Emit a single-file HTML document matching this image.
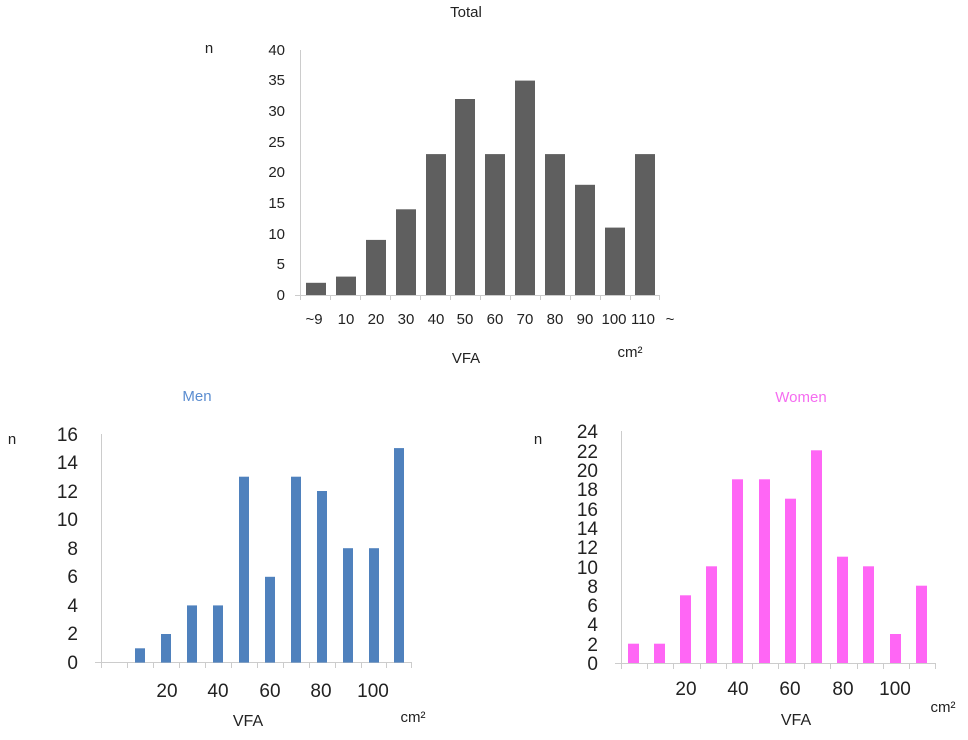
<!DOCTYPE html>
<html><head><meta charset="utf-8"><style>
html,body{margin:0;padding:0;background:#fff}
text{font-family:"Liberation Sans","DejaVu Sans",sans-serif;fill:#222}
</style></head><body>
<svg width="968" height="735" xmlns="http://www.w3.org/2000/svg">
<!-- Total -->
<text x="466" y="17" font-size="15" text-anchor="middle">Total</text>
<text x="209" y="53" font-size="15" text-anchor="middle">n</text>
<g font-size="15" text-anchor="end">
<text x="285" y="300">0</text><text x="285" y="269">5</text><text x="285" y="239">10</text><text x="285" y="208">15</text><text x="285" y="177">20</text><text x="285" y="147">25</text><text x="285" y="116">30</text><text x="285" y="85">35</text><text x="285" y="55">40</text>
</g>
<line x1="300.5" y1="50" x2="300.5" y2="300" stroke="#ccc"/>
<line x1="295" y1="295.5" x2="660" y2="295.5" stroke="#ccc"/>
<g stroke="#ccc"><line x1="330.5" y1="295" x2="330.5" y2="300"/><line x1="360.5" y1="295" x2="360.5" y2="300"/><line x1="390.5" y1="295" x2="390.5" y2="300"/><line x1="420.5" y1="295" x2="420.5" y2="300"/><line x1="450.5" y1="295" x2="450.5" y2="300"/><line x1="480.5" y1="295" x2="480.5" y2="300"/><line x1="510.5" y1="295" x2="510.5" y2="300"/><line x1="540.5" y1="295" x2="540.5" y2="300"/><line x1="570.5" y1="295" x2="570.5" y2="300"/><line x1="600.5" y1="295" x2="600.5" y2="300"/><line x1="630.5" y1="295" x2="630.5" y2="300"/><line x1="659.5" y1="295" x2="659.5" y2="300"/></g>
<g fill="#5f5f5f">
<rect x="306" y="282.8" width="20" height="12.2"/>
<rect x="336" y="276.6" width="20" height="18.4"/>
<rect x="366" y="239.9" width="20" height="55.1"/>
<rect x="396" y="209.3" width="20" height="85.7"/>
<rect x="426" y="154.1" width="20" height="140.9"/>
<rect x="455" y="99" width="20" height="196"/>
<rect x="485" y="154.1" width="20" height="140.9"/>
<rect x="515" y="80.6" width="20" height="214.4"/>
<rect x="545" y="154.1" width="20" height="140.9"/>
<rect x="575" y="184.8" width="20" height="110.2"/>
<rect x="605" y="227.6" width="20" height="67.4"/>
<rect x="635" y="154.1" width="20" height="140.9"/>
</g>
<g font-size="15" text-anchor="middle">
<text x="314" y="324">~9</text><text x="346" y="324">10</text><text x="376" y="324">20</text><text x="406" y="324">30</text><text x="436" y="324">40</text><text x="465" y="324">50</text><text x="495" y="324">60</text><text x="525" y="324">70</text><text x="555" y="324">80</text><text x="585" y="324">90</text><text x="614" y="324">100</text><text x="643" y="324">110</text><text x="670" y="324">~</text>
<text x="466" y="363">VFA</text>
<text x="630" y="357">cm²</text>
</g>
<!-- Men -->
<text x="197" y="401" font-size="15" text-anchor="middle" style="fill:#5b8dd0">Men</text>
<text x="12" y="444" font-size="15" text-anchor="middle">n</text>
<g font-size="19" text-anchor="end">
<text x="78" y="669">0</text><text x="78" y="640">2</text><text x="78" y="612">4</text><text x="78" y="583">6</text><text x="78" y="555">8</text><text x="78" y="526">10</text><text x="78" y="498">12</text><text x="78" y="469">14</text><text x="78" y="441">16</text>
</g>
<line x1="101.5" y1="434" x2="101.5" y2="668" stroke="#ccc"/>
<line x1="95" y1="662.5" x2="412" y2="662.5" stroke="#ccc"/>
<g stroke="#ccc"><line x1="127.5" y1="662" x2="127.5" y2="668"/><line x1="153.5" y1="662" x2="153.5" y2="668"/><line x1="179.5" y1="662" x2="179.5" y2="668"/><line x1="205.5" y1="662" x2="205.5" y2="668"/><line x1="231.5" y1="662" x2="231.5" y2="668"/><line x1="257.5" y1="662" x2="257.5" y2="668"/><line x1="283.5" y1="662" x2="283.5" y2="668"/><line x1="309.5" y1="662" x2="309.5" y2="668"/><line x1="335.5" y1="662" x2="335.5" y2="668"/><line x1="361.5" y1="662" x2="361.5" y2="668"/><line x1="386.5" y1="662" x2="386.5" y2="668"/><line x1="411.5" y1="662" x2="411.5" y2="668"/></g>
<g fill="#4f81bd">
<rect x="135" y="648.3" width="10" height="14.3"/>
<rect x="161" y="634" width="10" height="28.6"/>
<rect x="187" y="605.4" width="10" height="57.2"/>
<rect x="213" y="605.4" width="10" height="57.2"/>
<rect x="239" y="476.7" width="10" height="185.9"/>
<rect x="265" y="576.8" width="10" height="85.8"/>
<rect x="291" y="476.7" width="10" height="185.9"/>
<rect x="317" y="491" width="10" height="171.6"/>
<rect x="343" y="548.2" width="10" height="114.4"/>
<rect x="369" y="548.2" width="10" height="114.4"/>
<rect x="394" y="448.1" width="10" height="214.5"/>
</g>
<g font-size="19" text-anchor="middle">
<text x="167" y="697">20</text><text x="218" y="697">40</text><text x="270" y="697">60</text><text x="321" y="697">80</text><text x="373" y="697">100</text>
</g>
<text x="248" y="726" font-size="16" text-anchor="middle">VFA</text>
<text x="413" y="722" font-size="15" text-anchor="middle">cm²</text>
<!-- Women -->
<text x="801" y="402" font-size="15" text-anchor="middle" style="fill:#f56cf0">Women</text>
<text x="538" y="444" font-size="15" text-anchor="middle">n</text>
<g font-size="19" text-anchor="end">
<text x="598" y="670">0</text><text x="598" y="651">2</text><text x="598" y="631">4</text><text x="598" y="612">6</text><text x="598" y="593">8</text><text x="598" y="574">10</text><text x="598" y="554">12</text><text x="598" y="535">14</text><text x="598" y="516">16</text><text x="598" y="496">18</text><text x="598" y="477">20</text><text x="598" y="458">22</text><text x="598" y="438">24</text>
</g>
<line x1="621.5" y1="431" x2="621.5" y2="669" stroke="#ccc"/>
<line x1="615" y1="663.5" x2="935" y2="663.5" stroke="#ccc"/>
<g stroke="#ccc"><line x1="647.5" y1="663" x2="647.5" y2="669"/><line x1="673.5" y1="663" x2="673.5" y2="669"/><line x1="700.5" y1="663" x2="700.5" y2="669"/><line x1="726.5" y1="663" x2="726.5" y2="669"/><line x1="752.5" y1="663" x2="752.5" y2="669"/><line x1="778.5" y1="663" x2="778.5" y2="669"/><line x1="804.5" y1="663" x2="804.5" y2="669"/><line x1="830.5" y1="663" x2="830.5" y2="669"/><line x1="857.5" y1="663" x2="857.5" y2="669"/><line x1="883.5" y1="663" x2="883.5" y2="669"/><line x1="909.5" y1="663" x2="909.5" y2="669"/><line x1="935.5" y1="663" x2="935.5" y2="669"/></g>
<g fill="#ff66f5">
<rect x="628" y="643.7" width="11" height="19.3"/>
<rect x="654" y="643.7" width="11" height="19.3"/>
<rect x="680" y="595.3" width="11" height="67.7"/>
<rect x="706" y="566.3" width="11" height="96.7"/>
<rect x="732" y="479.3" width="11" height="183.7"/>
<rect x="759" y="479.3" width="11" height="183.7"/>
<rect x="785" y="498.7" width="11" height="164.3"/>
<rect x="811" y="450.3" width="11" height="212.7"/>
<rect x="837" y="556.7" width="11" height="106.3"/>
<rect x="863" y="566.3" width="11" height="96.7"/>
<rect x="890" y="634" width="11" height="29"/>
<rect x="916" y="585.7" width="11" height="77.3"/>
</g>
<g font-size="19" text-anchor="middle">
<text x="686" y="695">20</text><text x="738" y="695">40</text><text x="790" y="695">60</text><text x="843" y="695">80</text><text x="895" y="695">100</text>
</g>
<text x="796" y="725" font-size="16" text-anchor="middle">VFA</text>
<text x="943" y="712" font-size="15" text-anchor="middle">cm²</text>
</svg>
</body></html>
